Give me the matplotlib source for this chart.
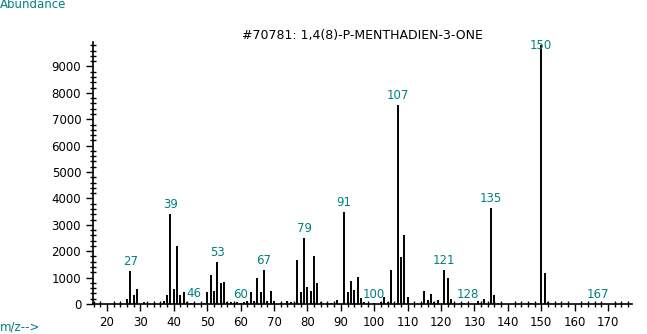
import numpy as np
import matplotlib.pyplot as plt
from matplotlib.ticker import MultipleLocator

# mass spectrum peaks (m/z, abundance)
mz = [26, 27, 28, 29, 31, 37, 38, 39, 40, 41, 42, 43, 44, 45, 46,
      49, 50, 51, 52, 53, 54, 55, 56, 57, 58, 59, 60, 61, 62, 63, 64,
      65, 66, 67, 68, 69, 70, 72, 74, 75, 77, 78, 79, 80, 81, 82, 83,
      84, 86, 87, 89, 91, 92, 93, 94, 95, 96, 97, 100, 102, 103, 104,
      105, 107, 108, 109, 110, 115, 116, 117, 118, 119, 121, 122, 123,
      127, 128, 131, 132, 133, 135, 136, 137, 147, 150, 151, 152, 167]
abundance = [180, 1250, 350, 550, 70, 120, 350, 3420, 570, 2180, 350, 450, 80, 40, 30,
             50, 450, 1090, 480, 1590, 790, 850, 60, 60, 30, 60, 25, 60, 130, 450, 130,
             1000, 450, 1280, 130, 510, 110, 40, 110, 60, 1660, 460, 2500, 640, 500, 1810, 790,
             80, 40, 40, 150, 3480, 460, 870, 540, 1020, 230, 70, 20, 80, 260, 80,
             1290, 7540, 1790, 2610, 260, 490, 150, 380, 80, 150, 1280, 970, 180,
             30, 20, 120, 40, 200, 3640, 350, 40, 50, 9800, 1160, 80, 10]
labelled = [27, 39, 46, 53, 60, 67, 79, 91, 100, 107, 121, 128, 135, 150, 167]

title = "#70781: 1,4(8)-P-MENTHADIEN-3-ONE"
teal = "#008080"

fig = plt.figure(figsize=(6.47, 3.34), dpi=100)
ax = fig.add_axes([0.1437, 0.0898, 0.8333, 0.7842])

ax.vlines(mz, 0, abundance, color="black", linewidth=1.4)
for m, a in zip(mz, abundance):
    if m in labelled:
        # labels that would run off the top sit over the peak instead
        ax.annotate(str(m), (m, min(a, 9450)), xytext=(0, 2), textcoords="offset points",
                    ha="center", va="bottom", color=teal, fontsize=8.5,
                    annotation_clip=False)

ax.set_xlim(15.8, 177.2)
ax.set_ylim(0, 9924)
ax.xaxis.set_major_locator(MultipleLocator(10))
ax.xaxis.set_minor_locator(MultipleLocator(2))
ax.yaxis.set_major_locator(MultipleLocator(1000))
ax.yaxis.set_minor_locator(MultipleLocator(200))
ax.tick_params(which="major", direction="out", length=5, width=1, labelsize=8.5)
ax.tick_params(which="minor", direction="inout", length=4, width=1)
ax.set_xticks(range(20, 171, 10))
for s in ("top", "right"):
    ax.spines[s].set_visible(False)
for s in ("left", "bottom"):
    ax.spines[s].set_linewidth(1.2)

fig.text(362 / 647, 1 - 36 / 334, title, ha="center", va="center", fontsize=9)
fig.text(0.0, 1 - 5 / 334, "Abundance", ha="left", va="center", color=teal, fontsize=8.5)
fig.text(0.0, 1 - 327 / 334, "m/z-->", ha="left", va="center", color=teal, fontsize=8.5)

fig.savefig("out.png", dpi=100)
